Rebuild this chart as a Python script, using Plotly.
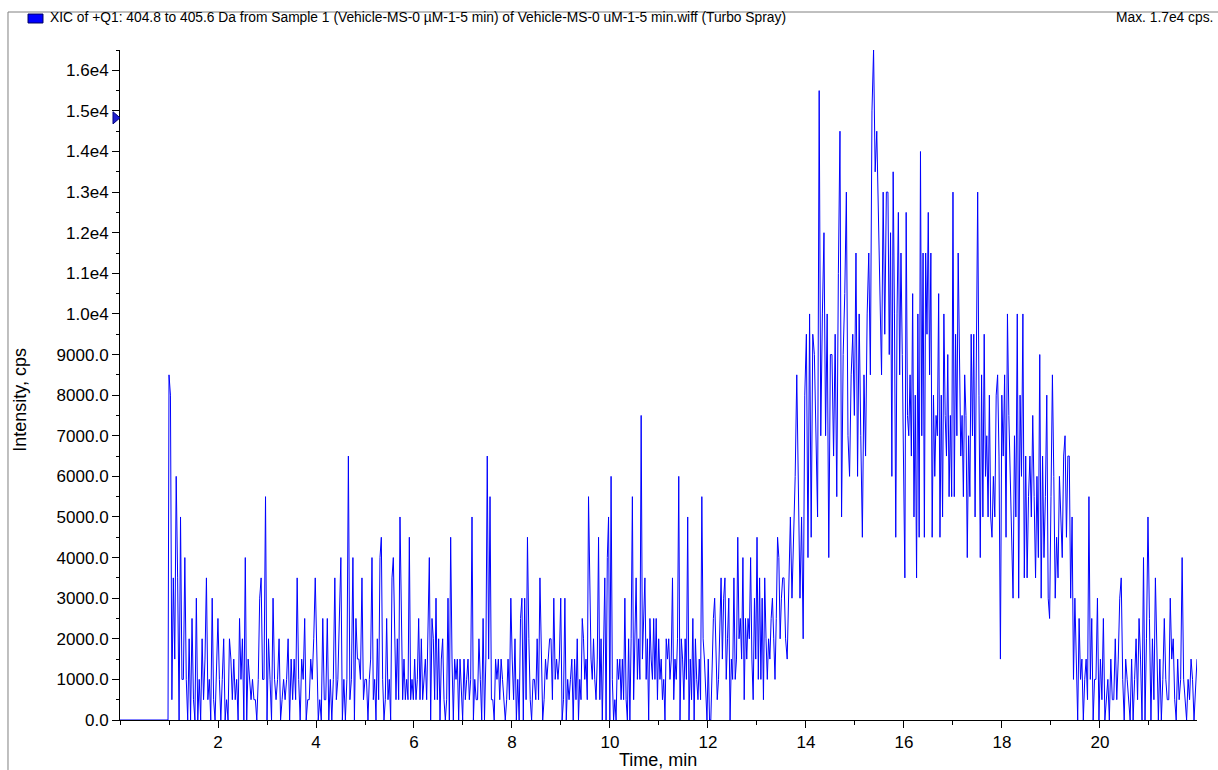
import numpy as np
import plotly.graph_objects as go

# ---- data (intensity in kcps; quantised at 0.5 kcps) ----
window_start_min = [1.000, 2.939, 5.061, 7.184, 9.306, 11.429, 13.551, 15.673, 17.796, 19.918]
run_end_min = 21.98
lead_zero_min = [0.0, 0.98]

seg01 = [8.5, 8, 0.5, 3.5, 1.5, 6, 3.5, 0, 5, 1, 1, 4, 1, 0, 2, 0, 2.5, 0.5, 0, 3, 0, 1, 0, 2,
         0.5, 1.5, 3.5, 0.5, 1, 0, 3, 0.5, 0, 1.5, 2.5, 1, 0, 1, 2, 0, 0.5, 0, 2, 1.5, 0.5, 1.5,
         0.5, 1, 0, 2.5, 1, 2, 0, 4, 0, 1.5, 1, 0.5, 1, 0.5, 0.5, 0, 1, 3, 3.5, 1]
seg02 = [1, 5.5, 0, 2, 1, 0, 3, 1, 0.5, 1, 2, 0, 0.5, 1, 0.5, 1, 2, 0, 1.5, 0.5, 1.5, 0.5, 3.5,
         1, 0, 1.5, 1, 2.5, 0, 0.5, 0.5, 1.5, 1, 2, 3.5, 1.5, 0, 0.5, 0, 2.5, 0.5, 0.5, 2.5, 0,
         1, 0, 1, 3.5, 0.5, 1, 2.5, 4, 0, 1, 0, 1, 6.5, 0.5, 1, 4, 0, 2.5, 1.5, 1.5, 1, 3.5, 0.5,
         1, 1]
seg03 = [0, 1, 1.5, 4, 0.5, 1, 0, 2, 0.5, 4, 4.5, 1, 0, 0.5, 2.5, 0.5, 1, 0, 3.5, 4, 2, 0.5, 2,
         0.5, 5, 2.5, 0.5, 1.5, 0.5, 1, 0.5, 4.5, 0.5, 1, 0.5, 1.5, 0.5, 1, 2.5, 0.5, 2, 0.5, 1,
         1.5, 0.5, 2, 4, 0, 2.5, 2, 0.5, 3, 0.5, 2, 0, 1.5, 2, 0.5, 0, 0.5, 3, 0, 4.5, 1.5, 0, 1.5,
         1, 1.5, 0, 1.5, 0.5, 0, 1.5, 0.5, 1, 1.5, 0.5, 1]
seg04 = [5, 0, 1, 0.5, 0.5, 2, 1, 0, 2.5, 0, 1.5, 6.5, 1.5, 5.5, 0.5, 0.5, 0, 1.5, 1, 1.5, 0.5,
         1.5, 1, 0.5, 0, 0.5, 1.5, 0.5, 3, 1.5, 0.5, 2, 0, 1, 0, 2.5, 3, 0, 3, 0.5, 4.5, 2, 0.5,
         0, 1, 1, 0.5, 2, 0.5, 3.5, 1.5, 0, 0.5, 1.5, 1, 1.5, 2, 2, 0.5, 3, 1, 1.5, 1, 1.5, 3, 0,
         0.5, 3, 0, 1, 0.5, 1, 1.5, 0, 1.5]
seg05 = [0.5, 2, 0, 1, 0.5, 2.5, 2, 1, 1.5, 0.5, 5.5, 3.5, 1.5, 1, 2, 1, 0.5, 1.5, 4.5, 0.5, 2,
         0, 1.5, 3.5, 0, 4, 5, 0, 6, 1, 0, 0.5, 0, 1.5, 1, 1.5, 0.5, 1.5, 0.5, 3, 0.5, 0, 2, 0, 2,
         5.5, 0.5, 2, 3.5, 1, 2, 1, 7.5, 1.5, 2.5, 3.5, 1, 2, 0, 2.5, 1.5, 1, 2.5, 1, 2.5, 0.5, 2,
         1, 1.5, 0.5, 1, 0, 2, 1.5, 2, 1, 1.5, 3.5, 0.5, 1.5, 1, 2, 6]
seg06 = [0, 2, 1.5, 0.5, 2, 1, 5, 0, 1.5, 0.5, 2.5, 0, 2, 1, 0.5, 1.5, 0.5, 5.5, 2, 1.5, 0.5, 0,
         1.5, 0, 0, 1.5, 2.5, 3, 1.5, 0.5, 1, 2.5, 3.5, 1.5, 3, 3.5, 1, 2, 3, 0, 1.5, 1, 3.5, 1,
         1.5, 4.5, 2, 2.5, 1.5, 4, 0.5, 2.5, 1.5, 2.5, 2, 4, 1.5, 0.5, 3, 1.5, 4.5, 1, 3.5, 1, 3,
         0.5, 3.5, 2, 1, 2, 1.5, 2.5, 3, 2, 1, 2.5, 4.5, 4, 2, 3, 3.5]
seg07 = [3.5, 2, 1.5, 3.5, 5, 3, 4.5, 6, 8.5, 5.5, 3, 5, 2, 8, 9.5, 4, 10, 4.5, 9.5, 9, 7, 5,
         15.5, 7, 10, 12, 7, 10, 4, 9, 9, 6.5, 9.5, 5.5, 11, 14.5, 5, 9, 10.5, 13, 7, 6, 8.5, 9.5,
         7.5, 11.5, 6, 10, 7, 4.5, 8.5, 6.5, 10, 11.5, 8.5, 15, 16.5, 13.5, 14.5, 12.5, 10.5, 8.5,
         13, 9.5, 13]
seg08 = [13, 9, 12, 6, 13.5, 10, 4.5, 10, 12.5, 8.5, 11.5, 9, 6, 3.5, 12.5, 7.5, 7, 8.5, 6.5,
         10.5, 5, 8, 3.5, 10, 4.5, 14, 7, 11.5, 4.5, 11.5, 9.5, 12.5, 8.5, 11.5, 4.5, 8, 6, 7.5,
         7, 10.5, 4.5, 8, 5, 10, 7.5, 6.5, 9, 5.5, 7.5, 5.5, 13, 5.5, 9.5, 7, 11.5, 9, 6.5, 7.5,
         5.5, 8.5, 7.5, 4, 7, 5.5, 9.5, 7, 9.5, 5, 9.5, 13, 8, 4, 8.5, 5, 9.5, 6, 7, 5, 8, 5]
seg09 = [4.5, 6, 5, 8, 8.5, 6.5, 1.5, 8, 6.5, 8.5, 4.5, 10, 7.5, 6, 4, 3, 7, 5, 10, 3, 8, 6, 10,
         3.5, 6.5, 3.5, 5.5, 6.5, 5, 7.5, 5.5, 3.5, 6, 4, 9, 3, 6.5, 4, 5.5, 8, 3, 2.5, 5.5, 8.5,
         6, 3, 4.5, 3.5, 6, 5, 4, 6.5, 7, 4.5, 6.5, 6.5, 3, 5, 1, 3, 1, 0, 2.5, 1, 1.5, 0, 1, 1.5,
         0.5, 5.5, 1, 2.5, 0, 1]
seg10 = [1, 3, 0, 1.5, 0.5, 2.5, 0, 0.5, 1, 0, 1.5, 0.5, 0.5, 2, 0.5, 1.5, 3, 3.5, 1, 0, 1.5, 1,
         0.5, 0, 1.5, 0, 1, 2, 0.5, 2.5, 1.5, 0, 4, 0, 2, 5, 2.5, 0, 2, 0.5, 3.5, 2, 0, 1.5, 0, 1,
         2.5, 1, 0.5, 0.5, 3, 1.5, 2, 0.5, 0, 1.5, 0.5, 1, 4, 1, 0.5, 0, 1, 0.5, 1.5, 1, 0, 1, 1.5]

marker_intensity = 14830  # blue arrow marker on the intensity axis

y_tick_values = list(range(0, 16001, 1000))
y_tick_text = ["0.0", "1000.0", "2000.0", "3000.0", "4000.0", "5000.0", "6000.0", "7000.0",
               "8000.0", "9000.0", "1.0e4", "1.1e4", "1.2e4", "1.3e4", "1.4e4", "1.5e4", "1.6e4"]
x_tick_values = [2, 4, 6, 8, 10, 12, 14, 16, 18, 20]

header_text = "XIC of +Q1: 404.8 to 405.6 Da from Sample 1 (Vehicle-MS-0 µM-1-5 min) of Vehicle-MS-0 uM-1-5 min.wiff (Turbo Spray)"
max_text = "Max. 1.7e4 cps."

# ---- assemble trace ----
segments = [seg01, seg02, seg03, seg04, seg05, seg06, seg07, seg08, seg09, seg10]
times = list(lead_zero_min)
vals = [0.0, 0.0]
for i, seg in enumerate(segments):
    t0 = window_start_min[i]
    last = i == len(segments) - 1
    t1 = run_end_min if last else window_start_min[i + 1]
    ts = np.linspace(t0, t1, len(seg), endpoint=last)
    times.extend(ts.tolist())
    vals.extend([v * 1000 for v in seg])

FONT = "Liberation Sans, Arial, sans-serif"

fig = go.Figure()
fig.add_trace(go.Scatter(x=times, y=vals, mode="lines",
                         line=dict(color="#0000FF", width=1), hoverinfo="skip",
                         showlegend=False))

# triangle marker drawn against the intensity axis (x in paper units, y in data units)
tri_half = 150
tri_path = (f"M -0.0065,{marker_intensity + tri_half} L 0,{marker_intensity} "
            f"L -0.0065,{marker_intensity - tri_half} Z")

fig.update_layout(
    width=1218, height=770,
    margin=dict(l=120, r=21, t=50, b=50, autoexpand=False),
    paper_bgcolor="white", plot_bgcolor="white",
    font=dict(family=FONT, color="black"),
    xaxis=dict(range=[0, run_end_min], tickvals=x_tick_values, ticks="outside", ticklen=7,
               tickcolor="black", showline=True, linecolor="black", linewidth=1,
               showgrid=False, zeroline=False, tickfont=dict(size=17, family=FONT),
               minor=dict(dtick=1, tick0=0, ticks="outside", ticklen=4, tickcolor="black"),
               automargin=False),
    yaxis=dict(range=[0, 16500], tickvals=y_tick_values, ticktext=y_tick_text,
               ticks="outside", ticklen=7, tickcolor="black", showline=True,
               linecolor="black", linewidth=1, showgrid=False, zeroline=False,
               tickfont=dict(size=17, family=FONT),
               minor=dict(dtick=500, tick0=0, ticks="outside", ticklen=3, tickcolor="black"),
               automargin=False),
    annotations=[
        dict(text="Time, min", xref="paper", yref="paper", x=0.4995, y=-0.0597,
             xanchor="center", yanchor="middle", showarrow=False, font=dict(size=18, family=FONT)),
        dict(text="Intensity, cps", xref="paper", yref="paper", x=-0.0929, y=0.478,
             xanchor="center", yanchor="middle", textangle=-90, showarrow=False,
             font=dict(size=18, family=FONT)),
        dict(text=header_text, xref="paper", yref="paper", x=-0.0669, y=1.0478,
             xanchor="left", yanchor="middle", showarrow=False, font=dict(size=13.8, family=FONT)),
        dict(text=max_text, xref="paper", yref="paper", x=1.0165, y=1.0478,
             xanchor="right", yanchor="middle", showarrow=False, font=dict(size=13.8, family=FONT)),
    ],
    shapes=[
        dict(type="line", xref="paper", yref="paper", x0=-0.104, x1=1.0195, y0=1.0567, y1=1.0567,
             line=dict(color="#808080", width=1)),
        dict(type="line", xref="paper", yref="paper", x0=-0.104, x1=-0.104, y0=1.0567, y1=-0.0746,
             line=dict(color="#808080", width=1)),
        dict(type="rect", xref="paper", yref="paper", x0=-0.0854, x1=-0.0715, y0=1.0537, y1=1.0403,
             fillcolor="#0000FF", line=dict(color="#000060", width=1)),
        dict(type="path", xref="paper", yref="y", path=tri_path,
             fillcolor="#2020d0", line=dict(color="#000080", width=1)),
    ],
)

fig.write_html("out.html")
